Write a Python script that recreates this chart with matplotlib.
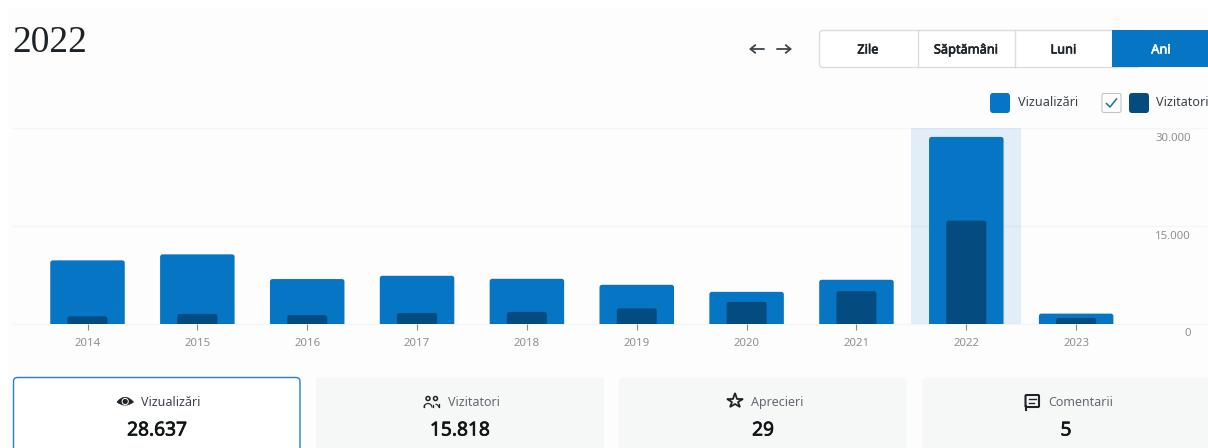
import matplotlib
matplotlib.use("Agg")
import matplotlib.pyplot as plt
import matplotlib.patheffects as pe
from matplotlib.patches import FancyBboxPatch, Rectangle, Circle, Wedge, PathPatch
from matplotlib.path import Path

years = ["2014", "2015", "2016", "2017", "2018", "2019", "2020", "2021", "2022", "2023"]
views = [9740, 10660, 6880, 7380, 6920, 6000, 4920, 6770, 28637, 1590]
visitors = [1180, 1540, 1340, 1690, 1850, 2380, 3380, 5000, 15818, 920]
y_ticks = [0, 15000, 30000]
y_tick_labels = ["0", "15.000", "30.000"]
selected_year = "2022"
period_tabs = ["Zile", "Săptămâni", "Luni", "Ani"]
stat_labels = ["Vizualizări", "Vizitatori", "Aprecieri", "Comentarii"]
stat_values = ["28.637", "15.818", "29", "5"]

BLUE = "#0675c4"
DARK = "#044b7f"
HILITE = "#e2eef7"
GRID = (0, 0, 0, 0.03)
BG = "#fdfdfd"
FONT = "Noto Sans"
W, H = 1208, 448

plt.rcParams["font.family"] = FONT
fig = plt.figure(figsize=(W / 100, H / 100), dpi=100, facecolor="white")


def semibold(color, width):
    return [pe.withStroke(linewidth=width, foreground=color)]


# page background, in pixel coordinates
ui = fig.add_axes([0, 0, 1, 1], zorder=0)
ui.set_xlim(0, W)
ui.set_ylim(H, 0)
ui.axis("off")
ui.add_patch(Rectangle((8, 9), W - 8, H - 9, fc=BG, ec="none"))

# chart axes: one slot = 109.85 px, left edge of the axes at px 13
SLOT = 109.85
AX_L, AX_R, AX_T, AX_B = 13, 1206, 128, 324
Y_MAX = 30000
ax = fig.add_axes([AX_L / W, 1 - AX_B / H, (AX_R - AX_L) / W, (AX_B - AX_T) / H], zorder=1)
ax.patch.set_alpha(0)
x0 = (87.5 - AX_L) / SLOT
ax.set_xlim(-x0, -x0 + (AX_R - AX_L) / SLOT)
ax.set_ylim(0, Y_MAX)
for s in ax.spines.values():
    s.set_visible(False)

x_pos = list(range(len(years)))
px_y = Y_MAX / (AX_B - AX_T)
px_x = 1 / SLOT


def rounded_bar(x, h, width_px, color, z, radius_px=2.5):
    w = width_px * px_x
    r = radius_px * px_x
    ry = radius_px * px_y
    ax.add_patch(FancyBboxPatch((x - w / 2, -ry), w, h + ry,
                                boxstyle=f"round,pad=0,rounding_size={r}",
                                mutation_aspect=px_y / px_x, fc=color, ec="none", zorder=z))


ax.axvspan(years.index(selected_year) - 0.5, years.index(selected_year) + 0.5,
           color=HILITE, lw=0, zorder=1)
for t in y_ticks:
    ax.axhline(t, color=GRID, lw=1, zorder=1.5, clip_on=False)
for xp, v, u in zip(x_pos, views, visitors):
    rounded_bar(xp, v, 74.5, BLUE, 2)
    rounded_bar(xp, u, 40, DARK, 3)

ax.set_xticks(x_pos, years)
ax.tick_params(axis="x", length=4, width=0.8, color="#8a8a8a", pad=6, labelsize=8.2, labelcolor="#8c8f94")
ax.set_yticks([])
for t, lab in zip(y_ticks, y_tick_labels):
    ypx = {0: 334, 15000: 236.5, 30000: 138.5}[t]
    ui.text(1191, ypx, lab, ha="right", va="center", fontsize=8.2, color="#8c8f94")

# title
ui.text(12.5, 52.5, selected_year, fontsize=27, family="Liberation Serif", color="#1d2327", va="baseline", ha="left")

# arrows
for (a, b) in [((764, 49), (749, 49)), ((777, 49), (792, 49))]:
    ui.annotate("", xy=b, xytext=a, arrowprops=dict(arrowstyle="->,head_length=0.35,head_width=0.28",
                                                   color="#3c434a", lw=1.3, shrinkA=0, shrinkB=0))

# period tabs
TAB_L, TAB_R, TAB_T, TAB_B = 819.5, 1208, 30.5, 67.5
ui.add_patch(Rectangle((1112, TAB_T), 98, TAB_B - TAB_T, fc=BLUE, ec="none", zorder=2))
ui.add_patch(FancyBboxPatch((TAB_L, TAB_T), 320, TAB_B - TAB_T, boxstyle="round,pad=0,rounding_size=3",
                            fc="white", ec="#dcdcde", lw=1, zorder=1.5))
for xs in (917.5, 1015, 1112):
    ui.plot([xs, xs], [TAB_T, TAB_B], color="#dcdcde", lw=1, zorder=1.6)
for cx, lab, col in zip((868, 966, 1063.5, 1161), period_tabs, ("#1d2327", "#1d2327", "#1d2327", "white")):
    ui.text(cx, 53.5, lab, ha="center", va="baseline", fontsize=9.2, color=col, zorder=3,
            path_effects=semibold(col, 0.45))

# legend
ui.add_patch(FancyBboxPatch((990, 93), 20, 20, boxstyle="round,pad=0,rounding_size=3", fc=BLUE, ec="none"))
ui.text(1018, 106.5, stat_labels[0], ha="left", va="baseline", fontsize=9.1, color="#3c434a")
ui.add_patch(FancyBboxPatch((1102, 93.5), 19, 19, boxstyle="round,pad=0,rounding_size=2", fc="white", ec="#c3c4c7", lw=0.8))
ui.plot([1106.5, 1110, 1116.5], [103.5, 107, 99], color="#1a6f9c", lw=1.1)
ui.add_patch(FancyBboxPatch((1129, 93), 20, 20, boxstyle="round,pad=0,rounding_size=3", fc=DARK, ec="none"))
ui.text(1156.5, 106.5, stat_labels[1], ha="left", va="baseline", fontsize=9.1, color="#3c434a", clip_on=True)

# stat cards
cards = [(13.5, 286.5), (316, 288), (618.5, 288), (922, 290)]
CARD_T = 377.5
for i, ((cx, cw), lab, val) in enumerate(zip(cards, stat_labels, stat_values)):
    if i == 0:
        ui.add_patch(FancyBboxPatch((cx, CARD_T), cw, 90, boxstyle="round,pad=0,rounding_size=4",
                                    fc="white", ec="#2a7fc1", lw=1, clip_on=True))
    else:
        ui.add_patch(FancyBboxPatch((cx, CARD_T), cw, 90, boxstyle="round,pad=0,rounding_size=4",
                                    fc="#f6f7f7", ec="none", clip_on=True))

label_x = [141, 448, 751, 1048]
label_cols = ["#3c434a", "#646970", "#646970", "#646970"]
for lx, lab, col in zip(label_x, stat_labels, label_cols):
    ui.text(lx, 406, lab, ha="left", va="baseline", fontsize=9.0, color=col)
for cx, val in zip((157, 460, 763, 1066), stat_values):
    ui.text(cx, 435.5, val, ha="center", va="baseline", fontsize=13.8, color="#101517",
            path_effects=semibold("#101517", 0.5))

ICON = "#1d2327"
# eye: almond outline, pale ring, pupil
eye = Path([(117, 402), (125, 392.5), (133.5, 402), (125, 408.5), (117, 402)],
           [Path.MOVETO, Path.CURVE3, Path.CURVE3, Path.CURVE3, Path.CURVE3])
ui.add_patch(PathPatch(eye, fc=ICON, ec=ICON, lw=0.5))
ui.add_patch(Circle((125.2, 401.5), 3.6, fc="white", ec="none"))
ui.add_patch(Circle((125.2, 401.5), 2.6, fc=ICON, ec="none"))
# people
for cxp in (428, 435.5):
    ui.add_patch(Circle((cxp, 398.5), 2.0, fc="none", ec=ICON, lw=1.1))
ui.add_patch(Wedge((428, 407.5), 4.6, 180, 360, width=1.2, fc=ICON, ec="none"))
ui.add_patch(Wedge((435.5, 407.5), 3.8, 270, 360, width=1.2, fc=ICON, ec="none"))
ui.plot([423.5, 423.5], [405, 407.5], color=ICON, lw=0.9)
ui.plot([432.7, 432.7], [405, 407.5], color=ICON, lw=0.9)
ui.plot([439, 439], [404, 407.5], color=ICON, lw=0.9)
# star
ui.plot([734.5], [401.5], marker="*", ms=11.5, mfc="none", mec=ICON, mew=1.3)
# comment
ui.add_patch(FancyBboxPatch((1025.5, 395), 13.5, 12, boxstyle="round,pad=0,rounding_size=1", fc="none", ec=ICON, lw=1.5))
ui.plot([1025.5, 1025.5], [406, 410], color=ICON, lw=1.5)
ui.plot([1029, 1036], [399.5, 399.5], color=ICON, lw=1)
ui.plot([1029, 1034], [403, 403], color=ICON, lw=1)

fig.savefig("out.png", dpi=100, facecolor="white")
